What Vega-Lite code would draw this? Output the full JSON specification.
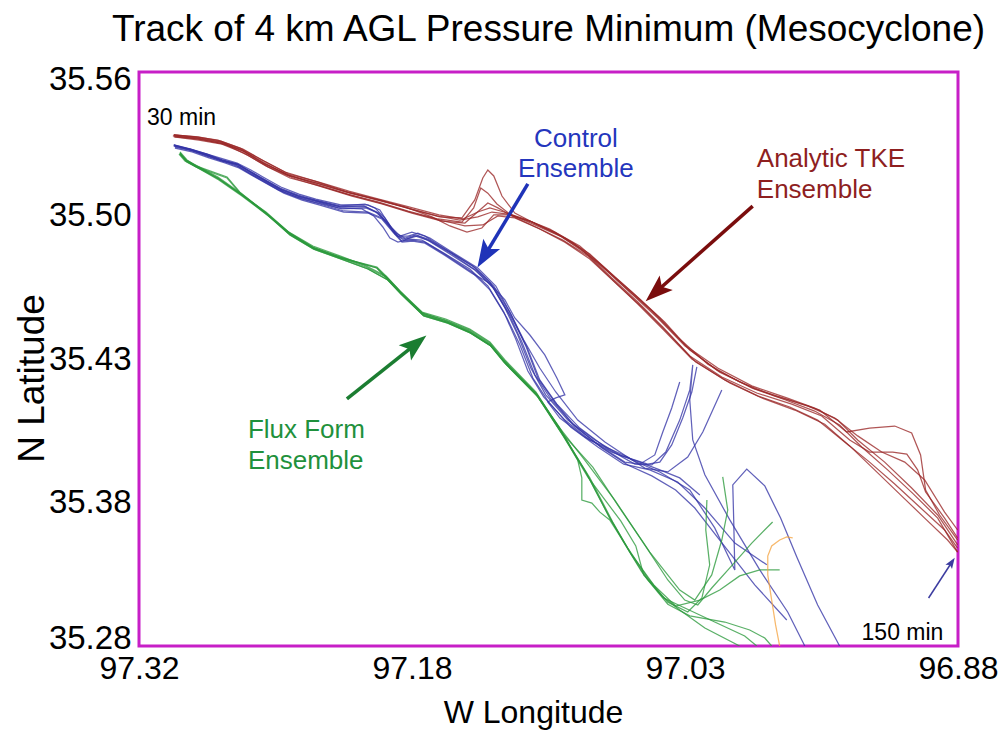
{
"$schema":"https://vega.github.io/schema/vega-lite/v6.json",
"width":819,"height":574,
"autosize":{"type":"none"},
"padding":{"left":139,"top":72,"right":41,"bottom":89},
"background":"white",
"config":{"font":"Liberation Sans","view":{"stroke":"#c71fc7","strokeWidth":3}},
"title":{"text":"Track of 4 km AGL Pressure Minimum (Mesocyclone)","fontSize":37,"fontWeight":"normal","color":"black","anchor":"middle","offset":14},
"datasets":{
"tracks":[
{"ens":"TKE","mem":"r1","t":0,"lon":97.3013,"lat":35.5293},{"ens":"TKE","mem":"r1","t":1,"lon":97.2872,"lat":35.5278},{"ens":"TKE","mem":"r1","t":2,"lon":97.2754,"lat":35.5258},{"ens":"TKE","mem":"r1","t":3,"lon":97.2631,"lat":35.5210},{"ens":"TKE","mem":"r1","t":4,"lon":97.2523,"lat":35.5151},{"ens":"TKE","mem":"r1","t":5,"lon":97.2389,"lat":35.5093},{"ens":"TKE","mem":"r1","t":6,"lon":97.2228,"lat":35.5053},{"ens":"TKE","mem":"r1","t":7,"lon":97.2067,"lat":35.5009},{"ens":"TKE","mem":"r1","t":8,"lon":97.1906,"lat":35.4976},{"ens":"TKE","mem":"r1","t":9,"lon":97.1745,"lat":35.4932},{"ens":"TKE","mem":"r1","t":10,"lon":97.1584,"lat":35.4893},{"ens":"TKE","mem":"r1","t":11,"lon":97.1465,"lat":35.4888},{"ens":"TKE","mem":"r1","t":12,"lon":97.1396,"lat":35.4976},{"ens":"TKE","mem":"r1","t":13,"lon":97.1353,"lat":35.5083},{"ens":"TKE","mem":"r1","t":14,"lon":97.1326,"lat":35.5122},{"ens":"TKE","mem":"r1","t":15,"lon":97.1294,"lat":35.5093},{"ens":"TKE","mem":"r1","t":16,"lon":97.1250,"lat":35.4995},{"ens":"TKE","mem":"r1","t":17,"lon":97.1181,"lat":35.4912},{"ens":"TKE","mem":"r1","t":18,"lon":97.1047,"lat":35.4849},{"ens":"TKE","mem":"r1","t":19,"lon":97.0912,"lat":35.4790},{"ens":"TKE","mem":"r1","t":20,"lon":97.0778,"lat":35.4712},{"ens":"TKE","mem":"r1","t":21,"lon":97.0644,"lat":35.4600},{"ens":"TKE","mem":"r1","t":22,"lon":97.0510,"lat":35.4493},{"ens":"TKE","mem":"r1","t":23,"lon":97.0375,"lat":35.4380},{"ens":"TKE","mem":"r1","t":24,"lon":97.0241,"lat":35.4244},{"ens":"TKE","mem":"r1","t":25,"lon":97.0080,"lat":35.4136},{"ens":"TKE","mem":"r1","t":26,"lon":96.9892,"lat":35.4054},{"ens":"TKE","mem":"r1","t":27,"lon":96.9704,"lat":35.4000},{"ens":"TKE","mem":"r1","t":28,"lon":96.9543,"lat":35.3951},{"ens":"TKE","mem":"r1","t":29,"lon":96.9398,"lat":35.3844},{"ens":"TKE","mem":"r1","t":30,"lon":96.9275,"lat":35.3863},{"ens":"TKE","mem":"r1","t":31,"lon":96.9140,"lat":35.3873},{"ens":"TKE","mem":"r1","t":32,"lon":96.9049,"lat":35.3839},{"ens":"TKE","mem":"r1","t":33,"lon":96.9001,"lat":35.3732},{"ens":"TKE","mem":"r1","t":34,"lon":96.8974,"lat":35.3561},{"ens":"TKE","mem":"r1","t":35,"lon":96.8899,"lat":35.3439},{"ens":"TKE","mem":"r1","t":36,"lon":96.8802,"lat":35.3317},
{"ens":"TKE","mem":"r2","t":0,"lon":97.3013,"lat":35.5288},{"ens":"TKE","mem":"r2","t":1,"lon":97.2883,"lat":35.5273},{"ens":"TKE","mem":"r2","t":2,"lon":97.2765,"lat":35.5253},{"ens":"TKE","mem":"r2","t":3,"lon":97.2642,"lat":35.5215},{"ens":"TKE","mem":"r2","t":4,"lon":97.2534,"lat":35.5156},{"ens":"TKE","mem":"r2","t":5,"lon":97.2400,"lat":35.5098},{"ens":"TKE","mem":"r2","t":6,"lon":97.2239,"lat":35.5049},{"ens":"TKE","mem":"r2","t":7,"lon":97.2078,"lat":35.5004},{"ens":"TKE","mem":"r2","t":8,"lon":97.1917,"lat":35.4966},{"ens":"TKE","mem":"r2","t":9,"lon":97.1755,"lat":35.4922},{"ens":"TKE","mem":"r2","t":10,"lon":97.1594,"lat":35.4883},{"ens":"TKE","mem":"r2","t":11,"lon":97.1465,"lat":35.4868},{"ens":"TKE","mem":"r2","t":12,"lon":97.1402,"lat":35.4937},{"ens":"TKE","mem":"r2","t":13,"lon":97.1364,"lat":35.5034},{"ens":"TKE","mem":"r2","t":14,"lon":97.1326,"lat":35.5009},{"ens":"TKE","mem":"r2","t":15,"lon":97.1277,"lat":35.4956},{"ens":"TKE","mem":"r2","t":16,"lon":97.1208,"lat":35.4907},{"ens":"TKE","mem":"r2","t":17,"lon":97.1073,"lat":35.4854},{"ens":"TKE","mem":"r2","t":18,"lon":97.0928,"lat":35.4795},{"ens":"TKE","mem":"r2","t":19,"lon":97.0789,"lat":35.4708},{"ens":"TKE","mem":"r2","t":20,"lon":97.0660,"lat":35.4595},{"ens":"TKE","mem":"r2","t":21,"lon":97.0520,"lat":35.4478},{"ens":"TKE","mem":"r2","t":22,"lon":97.0386,"lat":35.4356},{"ens":"TKE","mem":"r2","t":23,"lon":97.0241,"lat":35.4215},{"ens":"TKE","mem":"r2","t":24,"lon":97.0069,"lat":35.4112},{"ens":"TKE","mem":"r2","t":25,"lon":96.9881,"lat":35.4034},{"ens":"TKE","mem":"r2","t":26,"lon":96.9693,"lat":35.3980},{"ens":"TKE","mem":"r2","t":27,"lon":96.9532,"lat":35.3922},{"ens":"TKE","mem":"r2","t":28,"lon":96.9382,"lat":35.3805},{"ens":"TKE","mem":"r2","t":29,"lon":96.9275,"lat":35.3746},{"ens":"TKE","mem":"r2","t":30,"lon":96.9151,"lat":35.3746},{"ens":"TKE","mem":"r2","t":31,"lon":96.9075,"lat":35.3736},{"ens":"TKE","mem":"r2","t":32,"lon":96.9017,"lat":35.3659},{"ens":"TKE","mem":"r2","t":33,"lon":96.8974,"lat":35.3551},{"ens":"TKE","mem":"r2","t":34,"lon":96.8872,"lat":35.3424},{"ens":"TKE","mem":"r2","t":35,"lon":96.8802,"lat":35.3327},
{"ens":"TKE","mem":"r3","t":0,"lon":97.3007,"lat":35.5283},{"ens":"TKE","mem":"r3","t":1,"lon":97.2872,"lat":35.5273},{"ens":"TKE","mem":"r3","t":2,"lon":97.2738,"lat":35.5248},{"ens":"TKE","mem":"r3","t":3,"lon":97.2620,"lat":35.5196},{"ens":"TKE","mem":"r3","t":4,"lon":97.2507,"lat":35.5137},{"ens":"TKE","mem":"r3","t":5,"lon":97.2373,"lat":35.5083},{"ens":"TKE","mem":"r3","t":6,"lon":97.2217,"lat":35.5039},{"ens":"TKE","mem":"r3","t":7,"lon":97.2056,"lat":35.4995},{"ens":"TKE","mem":"r3","t":8,"lon":97.1895,"lat":35.4956},{"ens":"TKE","mem":"r3","t":9,"lon":97.1734,"lat":35.4912},{"ens":"TKE","mem":"r3","t":10,"lon":97.1573,"lat":35.4873},{"ens":"TKE","mem":"r3","t":11,"lon":97.1449,"lat":35.4863},{"ens":"TKE","mem":"r3","t":12,"lon":97.1369,"lat":35.4927},{"ens":"TKE","mem":"r3","t":13,"lon":97.1326,"lat":35.4961},{"ens":"TKE","mem":"r3","t":14,"lon":97.1272,"lat":35.4937},{"ens":"TKE","mem":"r3","t":15,"lon":97.1197,"lat":35.4898},{"ens":"TKE","mem":"r3","t":16,"lon":97.1057,"lat":35.4839},{"ens":"TKE","mem":"r3","t":17,"lon":97.0923,"lat":35.4780},{"ens":"TKE","mem":"r3","t":18,"lon":97.0789,"lat":35.4703},{"ens":"TKE","mem":"r3","t":19,"lon":97.0655,"lat":35.4585},{"ens":"TKE","mem":"r3","t":20,"lon":97.0520,"lat":35.4468},{"ens":"TKE","mem":"r3","t":21,"lon":97.0381,"lat":35.4341},{"ens":"TKE","mem":"r3","t":22,"lon":97.0230,"lat":35.4200},{"ens":"TKE","mem":"r3","t":23,"lon":97.0053,"lat":35.4098},{"ens":"TKE","mem":"r3","t":24,"lon":96.9876,"lat":35.4020},{"ens":"TKE","mem":"r3","t":25,"lon":96.9704,"lat":35.3966},{"ens":"TKE","mem":"r3","t":26,"lon":96.9554,"lat":35.3902},{"ens":"TKE","mem":"r3","t":27,"lon":96.9409,"lat":35.3795},{"ens":"TKE","mem":"r3","t":28,"lon":96.9275,"lat":35.3697},{"ens":"TKE","mem":"r3","t":29,"lon":96.9140,"lat":35.3590},{"ens":"TKE","mem":"r3","t":30,"lon":96.9006,"lat":35.3478},{"ens":"TKE","mem":"r3","t":31,"lon":96.8872,"lat":35.3366},{"ens":"TKE","mem":"r3","t":32,"lon":96.8802,"lat":35.3278},
{"ens":"TKE","mem":"r4","t":0,"lon":97.3013,"lat":35.5293},{"ens":"TKE","mem":"r4","t":1,"lon":97.2894,"lat":35.5283},{"ens":"TKE","mem":"r4","t":2,"lon":97.2776,"lat":35.5268},{"ens":"TKE","mem":"r4","t":3,"lon":97.2658,"lat":35.5229},{"ens":"TKE","mem":"r4","t":4,"lon":97.2539,"lat":35.5171},{"ens":"TKE","mem":"r4","t":5,"lon":97.2416,"lat":35.5112},{"ens":"TKE","mem":"r4","t":6,"lon":97.2255,"lat":35.5068},{"ens":"TKE","mem":"r4","t":7,"lon":97.2094,"lat":35.5019},{"ens":"TKE","mem":"r4","t":8,"lon":97.1933,"lat":35.4980},{"ens":"TKE","mem":"r4","t":9,"lon":97.1771,"lat":35.4942},{"ens":"TKE","mem":"r4","t":10,"lon":97.1626,"lat":35.4893},{"ens":"TKE","mem":"r4","t":11,"lon":97.1530,"lat":35.4849},{"ens":"TKE","mem":"r4","t":12,"lon":97.1438,"lat":35.4819},{"ens":"TKE","mem":"r4","t":13,"lon":97.1358,"lat":35.4839},{"ens":"TKE","mem":"r4","t":14,"lon":97.1294,"lat":35.4903},{"ens":"TKE","mem":"r4","t":15,"lon":97.1208,"lat":35.4903},{"ens":"TKE","mem":"r4","t":16,"lon":97.1089,"lat":35.4868},{"ens":"TKE","mem":"r4","t":17,"lon":97.0961,"lat":35.4814},{"ens":"TKE","mem":"r4","t":18,"lon":97.0832,"lat":35.4741},{"ens":"TKE","mem":"r4","t":19,"lon":97.0692,"lat":35.4634},{"ens":"TKE","mem":"r4","t":20,"lon":97.0552,"lat":35.4517},{"ens":"TKE","mem":"r4","t":21,"lon":97.0413,"lat":35.4400},{"ens":"TKE","mem":"r4","t":22,"lon":97.0268,"lat":35.4264},{"ens":"TKE","mem":"r4","t":23,"lon":97.0096,"lat":35.4146},{"ens":"TKE","mem":"r4","t":24,"lon":96.9908,"lat":35.4059},{"ens":"TKE","mem":"r4","t":25,"lon":96.9726,"lat":35.4000},{"ens":"TKE","mem":"r4","t":26,"lon":96.9570,"lat":35.3946},{"ens":"TKE","mem":"r4","t":27,"lon":96.9436,"lat":35.3878},{"ens":"TKE","mem":"r4","t":28,"lon":96.9317,"lat":35.3771},{"ens":"TKE","mem":"r4","t":29,"lon":96.9178,"lat":35.3659},{"ens":"TKE","mem":"r4","t":30,"lon":96.9039,"lat":35.3541},{"ens":"TKE","mem":"r4","t":31,"lon":96.8909,"lat":35.3424},{"ens":"TKE","mem":"r4","t":32,"lon":96.8802,"lat":35.3258},
{"ens":"TKE","mem":"r5","t":0,"lon":97.3018,"lat":35.5288},{"ens":"TKE","mem":"r5","t":1,"lon":97.2888,"lat":35.5278},{"ens":"TKE","mem":"r5","t":2,"lon":97.2765,"lat":35.5258},{"ens":"TKE","mem":"r5","t":3,"lon":97.2647,"lat":35.5220},{"ens":"TKE","mem":"r5","t":4,"lon":97.2534,"lat":35.5161},{"ens":"TKE","mem":"r5","t":5,"lon":97.2405,"lat":35.5098},{"ens":"TKE","mem":"r5","t":6,"lon":97.2244,"lat":35.5058},{"ens":"TKE","mem":"r5","t":7,"lon":97.2083,"lat":35.5014},{"ens":"TKE","mem":"r5","t":8,"lon":97.1922,"lat":35.4976},{"ens":"TKE","mem":"r5","t":9,"lon":97.1760,"lat":35.4937},{"ens":"TKE","mem":"r5","t":10,"lon":97.1599,"lat":35.4898},{"ens":"TKE","mem":"r5","t":11,"lon":97.1476,"lat":35.4878},{"ens":"TKE","mem":"r5","t":12,"lon":97.1380,"lat":35.4893},{"ens":"TKE","mem":"r5","t":13,"lon":97.1304,"lat":35.4917},{"ens":"TKE","mem":"r5","t":14,"lon":97.1218,"lat":35.4907},{"ens":"TKE","mem":"r5","t":15,"lon":97.1100,"lat":35.4873},{"ens":"TKE","mem":"r5","t":16,"lon":97.0966,"lat":35.4819},{"ens":"TKE","mem":"r5","t":17,"lon":97.0832,"lat":35.4751},{"ens":"TKE","mem":"r5","t":18,"lon":97.0697,"lat":35.4644},{"ens":"TKE","mem":"r5","t":19,"lon":97.0552,"lat":35.4527},{"ens":"TKE","mem":"r5","t":20,"lon":97.0402,"lat":35.4400},{"ens":"TKE","mem":"r5","t":21,"lon":97.0263,"lat":35.4264},{"ens":"TKE","mem":"r5","t":22,"lon":97.0091,"lat":35.4156},{"ens":"TKE","mem":"r5","t":23,"lon":96.9908,"lat":35.4069},{"ens":"TKE","mem":"r5","t":24,"lon":96.9720,"lat":35.4010},{"ens":"TKE","mem":"r5","t":25,"lon":96.9570,"lat":35.3961},{"ens":"TKE","mem":"r5","t":26,"lon":96.9446,"lat":35.3902},{"ens":"TKE","mem":"r5","t":27,"lon":96.9339,"lat":35.3805},{"ens":"TKE","mem":"r5","t":28,"lon":96.9194,"lat":35.3697},{"ens":"TKE","mem":"r5","t":29,"lon":96.9049,"lat":35.3571},{"ens":"TKE","mem":"r5","t":30,"lon":96.8909,"lat":35.3439},{"ens":"TKE","mem":"r5","t":31,"lon":96.8802,"lat":35.3293},
{"ens":"TKE","mem":"r6","t":0,"lon":97.3013,"lat":35.5283},{"ens":"TKE","mem":"r6","t":1,"lon":97.2878,"lat":35.5268},{"ens":"TKE","mem":"r6","t":2,"lon":97.2754,"lat":35.5248},{"ens":"TKE","mem":"r6","t":3,"lon":97.2637,"lat":35.5205},{"ens":"TKE","mem":"r6","t":4,"lon":97.2518,"lat":35.5142},{"ens":"TKE","mem":"r6","t":5,"lon":97.2389,"lat":35.5083},{"ens":"TKE","mem":"r6","t":6,"lon":97.2228,"lat":35.5044},{"ens":"TKE","mem":"r6","t":7,"lon":97.2067,"lat":35.5000},{"ens":"TKE","mem":"r6","t":8,"lon":97.1906,"lat":35.4961},{"ens":"TKE","mem":"r6","t":9,"lon":97.1745,"lat":35.4917},{"ens":"TKE","mem":"r6","t":10,"lon":97.1584,"lat":35.4878},{"ens":"TKE","mem":"r6","t":11,"lon":97.1449,"lat":35.4849},{"ens":"TKE","mem":"r6","t":12,"lon":97.1353,"lat":35.4854},{"ens":"TKE","mem":"r6","t":13,"lon":97.1272,"lat":35.4898},{"ens":"TKE","mem":"r6","t":14,"lon":97.1181,"lat":35.4888},{"ens":"TKE","mem":"r6","t":15,"lon":97.1047,"lat":35.4834},{"ens":"TKE","mem":"r6","t":16,"lon":97.0912,"lat":35.4770},{"ens":"TKE","mem":"r6","t":17,"lon":97.0778,"lat":35.4688},{"ens":"TKE","mem":"r6","t":18,"lon":97.0639,"lat":35.4570},{"ens":"TKE","mem":"r6","t":19,"lon":97.0499,"lat":35.4454},{"ens":"TKE","mem":"r6","t":20,"lon":97.0359,"lat":35.4326},{"ens":"TKE","mem":"r6","t":21,"lon":97.0209,"lat":35.4185},{"ens":"TKE","mem":"r6","t":22,"lon":97.0026,"lat":35.4083},{"ens":"TKE","mem":"r6","t":23,"lon":96.9854,"lat":35.4010},{"ens":"TKE","mem":"r6","t":24,"lon":96.9677,"lat":35.3951},{"ens":"TKE","mem":"r6","t":25,"lon":96.9516,"lat":35.3882},{"ens":"TKE","mem":"r6","t":26,"lon":96.9382,"lat":35.3776},{"ens":"TKE","mem":"r6","t":27,"lon":96.9248,"lat":35.3659},{"ens":"TKE","mem":"r6","t":28,"lon":96.9113,"lat":35.3541},{"ens":"TKE","mem":"r6","t":29,"lon":96.8979,"lat":35.3424},{"ens":"TKE","mem":"r6","t":30,"lon":96.8856,"lat":35.3317},{"ens":"TKE","mem":"r6","t":31,"lon":96.8802,"lat":35.3258},
{"ens":"TKE","mem":"r7","t":0,"lon":97.3013,"lat":35.5293},{"ens":"TKE","mem":"r7","t":1,"lon":97.2883,"lat":35.5283},{"ens":"TKE","mem":"r7","t":2,"lon":97.2760,"lat":35.5263},{"ens":"TKE","mem":"r7","t":3,"lon":97.2642,"lat":35.5224},{"ens":"TKE","mem":"r7","t":4,"lon":97.2529,"lat":35.5166},{"ens":"TKE","mem":"r7","t":5,"lon":97.2395,"lat":35.5102},{"ens":"TKE","mem":"r7","t":6,"lon":97.2234,"lat":35.5063},{"ens":"TKE","mem":"r7","t":7,"lon":97.2073,"lat":35.5019},{"ens":"TKE","mem":"r7","t":8,"lon":97.1912,"lat":35.4980},{"ens":"TKE","mem":"r7","t":9,"lon":97.1750,"lat":35.4942},{"ens":"TKE","mem":"r7","t":10,"lon":97.1589,"lat":35.4903},{"ens":"TKE","mem":"r7","t":11,"lon":97.1460,"lat":35.4883},{"ens":"TKE","mem":"r7","t":12,"lon":97.1380,"lat":35.4917},{"ens":"TKE","mem":"r7","t":13,"lon":97.1315,"lat":35.4937},{"ens":"TKE","mem":"r7","t":14,"lon":97.1240,"lat":35.4917},{"ens":"TKE","mem":"r7","t":15,"lon":97.1127,"lat":35.4883},{"ens":"TKE","mem":"r7","t":16,"lon":97.0993,"lat":35.4834},{"ens":"TKE","mem":"r7","t":17,"lon":97.0865,"lat":35.4765},{"ens":"TKE","mem":"r7","t":18,"lon":97.0730,"lat":35.4668},{"ens":"TKE","mem":"r7","t":19,"lon":97.0590,"lat":35.4551},{"ens":"TKE","mem":"r7","t":20,"lon":97.0445,"lat":35.4434},{"ens":"TKE","mem":"r7","t":21,"lon":97.0301,"lat":35.4302},{"ens":"TKE","mem":"r7","t":22,"lon":97.0144,"lat":35.4175},{"ens":"TKE","mem":"r7","t":23,"lon":96.9973,"lat":35.4088},{"ens":"TKE","mem":"r7","t":24,"lon":96.9785,"lat":35.4020},{"ens":"TKE","mem":"r7","t":25,"lon":96.9607,"lat":35.3971},{"ens":"TKE","mem":"r7","t":26,"lon":96.9462,"lat":35.3912},{"ens":"TKE","mem":"r7","t":27,"lon":96.9339,"lat":35.3825},{"ens":"TKE","mem":"r7","t":28,"lon":96.9210,"lat":35.3746},{"ens":"TKE","mem":"r7","t":29,"lon":96.9086,"lat":35.3697},{"ens":"TKE","mem":"r7","t":30,"lon":96.8979,"lat":35.3610},{"ens":"TKE","mem":"r7","t":31,"lon":96.8872,"lat":35.3453},{"ens":"TKE","mem":"r7","t":32,"lon":96.8802,"lat":35.3366},
{"ens":"CTL","mem":"b1","t":0,"lon":97.3013,"lat":35.5244},{"ens":"CTL","mem":"b1","t":1,"lon":97.2926,"lat":35.5224},{"ens":"CTL","mem":"b1","t":2,"lon":97.2834,"lat":35.5200},{"ens":"CTL","mem":"b1","t":3,"lon":97.2754,"lat":35.5171},{"ens":"CTL","mem":"b1","t":4,"lon":97.2673,"lat":35.5151},{"ens":"CTL","mem":"b1","t":5,"lon":97.2604,"lat":35.5117},{"ens":"CTL","mem":"b1","t":6,"lon":97.2539,"lat":35.5083},{"ens":"CTL","mem":"b1","t":7,"lon":97.2443,"lat":35.5034},{"ens":"CTL","mem":"b1","t":8,"lon":97.2346,"lat":35.5000},{"ens":"CTL","mem":"b1","t":9,"lon":97.2255,"lat":35.4976},{"ens":"CTL","mem":"b1","t":10,"lon":97.2121,"lat":35.4947},{"ens":"CTL","mem":"b1","t":11,"lon":97.1986,"lat":35.4956},{"ens":"CTL","mem":"b1","t":12,"lon":97.1933,"lat":35.4937},{"ens":"CTL","mem":"b1","t":13,"lon":97.1879,"lat":35.4888},{"ens":"CTL","mem":"b1","t":14,"lon":97.1841,"lat":35.4839},{"ens":"CTL","mem":"b1","t":15,"lon":97.1798,"lat":35.4800},{"ens":"CTL","mem":"b1","t":16,"lon":97.1734,"lat":35.4819},{"ens":"CTL","mem":"b1","t":17,"lon":97.1664,"lat":35.4800},{"ens":"CTL","mem":"b1","t":18,"lon":97.1546,"lat":35.4732},{"ens":"CTL","mem":"b1","t":19,"lon":97.1407,"lat":35.4654},{"ens":"CTL","mem":"b1","t":20,"lon":97.1315,"lat":35.4575},{"ens":"CTL","mem":"b1","t":21,"lon":97.1234,"lat":35.4449},{"ens":"CTL","mem":"b1","t":22,"lon":97.1165,"lat":35.4317},{"ens":"CTL","mem":"b1","t":23,"lon":97.1095,"lat":35.4156},{"ens":"CTL","mem":"b1","t":24,"lon":97.1015,"lat":35.4025},{"ens":"CTL","mem":"b1","t":25,"lon":97.0896,"lat":35.3902},{"ens":"CTL","mem":"b1","t":26,"lon":97.0751,"lat":35.3805},{"ens":"CTL","mem":"b1","t":27,"lon":97.0606,"lat":35.3727},{"ens":"CTL","mem":"b1","t":28,"lon":97.0467,"lat":35.3687},{"ens":"CTL","mem":"b1","t":29,"lon":97.0402,"lat":35.3697},{"ens":"CTL","mem":"b1","t":30,"lon":97.0338,"lat":35.3781},{"ens":"CTL","mem":"b1","t":31,"lon":97.0279,"lat":35.3912},{"ens":"CTL","mem":"b1","t":32,"lon":97.0230,"lat":35.4039},{"ens":"CTL","mem":"b1","t":33,"lon":97.0203,"lat":35.4161},
{"ens":"CTL","mem":"b2","t":0,"lon":97.3007,"lat":35.5239},{"ens":"CTL","mem":"b2","t":1,"lon":97.2921,"lat":35.5220},{"ens":"CTL","mem":"b2","t":2,"lon":97.2829,"lat":35.5191},{"ens":"CTL","mem":"b2","t":3,"lon":97.2744,"lat":35.5166},{"ens":"CTL","mem":"b2","t":4,"lon":97.2668,"lat":35.5147},{"ens":"CTL","mem":"b2","t":5,"lon":97.2593,"lat":35.5107},{"ens":"CTL","mem":"b2","t":6,"lon":97.2529,"lat":35.5073},{"ens":"CTL","mem":"b2","t":7,"lon":97.2432,"lat":35.5024},{"ens":"CTL","mem":"b2","t":8,"lon":97.2335,"lat":35.4990},{"ens":"CTL","mem":"b2","t":9,"lon":97.2239,"lat":35.4966},{"ens":"CTL","mem":"b2","t":10,"lon":97.2110,"lat":35.4932},{"ens":"CTL","mem":"b2","t":11,"lon":97.1981,"lat":35.4937},{"ens":"CTL","mem":"b2","t":12,"lon":97.1917,"lat":35.4912},{"ens":"CTL","mem":"b2","t":13,"lon":97.1863,"lat":35.4858},{"ens":"CTL","mem":"b2","t":14,"lon":97.1825,"lat":35.4809},{"ens":"CTL","mem":"b2","t":15,"lon":97.1777,"lat":35.4780},{"ens":"CTL","mem":"b2","t":16,"lon":97.1718,"lat":35.4800},{"ens":"CTL","mem":"b2","t":17,"lon":97.1648,"lat":35.4780},{"ens":"CTL","mem":"b2","t":18,"lon":97.1530,"lat":35.4712},{"ens":"CTL","mem":"b2","t":19,"lon":97.1396,"lat":35.4634},{"ens":"CTL","mem":"b2","t":20,"lon":97.1299,"lat":35.4551},{"ens":"CTL","mem":"b2","t":21,"lon":97.1213,"lat":35.4419},{"ens":"CTL","mem":"b2","t":22,"lon":97.1143,"lat":35.4283},{"ens":"CTL","mem":"b2","t":23,"lon":97.1073,"lat":35.4122},{"ens":"CTL","mem":"b2","t":24,"lon":97.0988,"lat":35.4005},{"ens":"CTL","mem":"b2","t":25,"lon":97.0870,"lat":35.3882},{"ens":"CTL","mem":"b2","t":26,"lon":97.0724,"lat":35.3776},{"ens":"CTL","mem":"b2","t":27,"lon":97.0590,"lat":35.3697},{"ens":"CTL","mem":"b2","t":28,"lon":97.0510,"lat":35.3687},{"ens":"CTL","mem":"b2","t":29,"lon":97.0429,"lat":35.3732},{"ens":"CTL","mem":"b2","t":30,"lon":97.0386,"lat":35.3844},{"ens":"CTL","mem":"b2","t":31,"lon":97.0338,"lat":35.3961},{"ens":"CTL","mem":"b2","t":32,"lon":97.0295,"lat":35.4088},
{"ens":"CTL","mem":"b3","t":0,"lon":97.3013,"lat":35.5239},{"ens":"CTL","mem":"b3","t":1,"lon":97.2926,"lat":35.5220},{"ens":"CTL","mem":"b3","t":2,"lon":97.2840,"lat":35.5196},{"ens":"CTL","mem":"b3","t":3,"lon":97.2760,"lat":35.5166},{"ens":"CTL","mem":"b3","t":4,"lon":97.2679,"lat":35.5147},{"ens":"CTL","mem":"b3","t":5,"lon":97.2610,"lat":35.5107},{"ens":"CTL","mem":"b3","t":6,"lon":97.2545,"lat":35.5073},{"ens":"CTL","mem":"b3","t":7,"lon":97.2449,"lat":35.5024},{"ens":"CTL","mem":"b3","t":8,"lon":97.2351,"lat":35.4990},{"ens":"CTL","mem":"b3","t":9,"lon":97.2261,"lat":35.4966},{"ens":"CTL","mem":"b3","t":10,"lon":97.2131,"lat":35.4937},{"ens":"CTL","mem":"b3","t":11,"lon":97.2002,"lat":35.4932},{"ens":"CTL","mem":"b3","t":12,"lon":97.1939,"lat":35.4898},{"ens":"CTL","mem":"b3","t":13,"lon":97.1890,"lat":35.4844},{"ens":"CTL","mem":"b3","t":14,"lon":97.1852,"lat":35.4790},{"ens":"CTL","mem":"b3","t":15,"lon":97.1809,"lat":35.4770},{"ens":"CTL","mem":"b3","t":16,"lon":97.1745,"lat":35.4785},{"ens":"CTL","mem":"b3","t":17,"lon":97.1680,"lat":35.4780},{"ens":"CTL","mem":"b3","t":18,"lon":97.1563,"lat":35.4717},{"ens":"CTL","mem":"b3","t":19,"lon":97.1423,"lat":35.4639},{"ens":"CTL","mem":"b3","t":20,"lon":97.1326,"lat":35.4556},{"ens":"CTL","mem":"b3","t":21,"lon":97.1240,"lat":35.4429},{"ens":"CTL","mem":"b3","t":22,"lon":97.1176,"lat":35.4297},{"ens":"CTL","mem":"b3","t":23,"lon":97.1111,"lat":35.4141},{"ens":"CTL","mem":"b3","t":24,"lon":97.1026,"lat":35.4015},{"ens":"CTL","mem":"b3","t":25,"lon":97.0912,"lat":35.3902},{"ens":"CTL","mem":"b3","t":26,"lon":97.0778,"lat":35.3805},{"ens":"CTL","mem":"b3","t":27,"lon":97.0574,"lat":35.3722},{"ens":"CTL","mem":"b3","t":28,"lon":97.0483,"lat":35.3668},{"ens":"CTL","mem":"b3","t":29,"lon":97.0359,"lat":35.3649},{"ens":"CTL","mem":"b3","t":30,"lon":97.0252,"lat":35.3722},{"ens":"CTL","mem":"b3","t":31,"lon":97.0171,"lat":35.3844},{"ens":"CTL","mem":"b3","t":32,"lon":97.0069,"lat":35.4049},
{"ens":"CTL","mem":"b4","t":0,"lon":97.3013,"lat":35.5244},{"ens":"CTL","mem":"b4","t":1,"lon":97.2921,"lat":35.5224},{"ens":"CTL","mem":"b4","t":2,"lon":97.2834,"lat":35.5200},{"ens":"CTL","mem":"b4","t":3,"lon":97.2749,"lat":35.5176},{"ens":"CTL","mem":"b4","t":4,"lon":97.2673,"lat":35.5156},{"ens":"CTL","mem":"b4","t":5,"lon":97.2599,"lat":35.5122},{"ens":"CTL","mem":"b4","t":6,"lon":97.2534,"lat":35.5088},{"ens":"CTL","mem":"b4","t":7,"lon":97.2438,"lat":35.5039},{"ens":"CTL","mem":"b4","t":8,"lon":97.2341,"lat":35.5004},{"ens":"CTL","mem":"b4","t":9,"lon":97.2250,"lat":35.4980},{"ens":"CTL","mem":"b4","t":10,"lon":97.2116,"lat":35.4952},{"ens":"CTL","mem":"b4","t":11,"lon":97.1970,"lat":35.4952},{"ens":"CTL","mem":"b4","t":12,"lon":97.1906,"lat":35.4927},{"ens":"CTL","mem":"b4","t":13,"lon":97.1852,"lat":35.4849},{"ens":"CTL","mem":"b4","t":14,"lon":97.1809,"lat":35.4800},{"ens":"CTL","mem":"b4","t":15,"lon":97.1755,"lat":35.4800},{"ens":"CTL","mem":"b4","t":16,"lon":97.1702,"lat":35.4814},{"ens":"CTL","mem":"b4","t":17,"lon":97.1637,"lat":35.4790},{"ens":"CTL","mem":"b4","t":18,"lon":97.1519,"lat":35.4722},{"ens":"CTL","mem":"b4","t":19,"lon":97.1380,"lat":35.4644},{"ens":"CTL","mem":"b4","t":20,"lon":97.1283,"lat":35.4556},{"ens":"CTL","mem":"b4","t":21,"lon":97.1197,"lat":35.4410},{"ens":"CTL","mem":"b4","t":22,"lon":97.1122,"lat":35.4264},{"ens":"CTL","mem":"b4","t":23,"lon":97.1057,"lat":35.4107},{"ens":"CTL","mem":"b4","t":24,"lon":97.0966,"lat":35.3990},{"ens":"CTL","mem":"b4","t":25,"lon":97.0859,"lat":35.3873},{"ens":"CTL","mem":"b4","t":26,"lon":97.0713,"lat":35.3766},{"ens":"CTL","mem":"b4","t":27,"lon":97.0574,"lat":35.3683},{"ens":"CTL","mem":"b4","t":28,"lon":97.0445,"lat":35.3630},{"ens":"CTL","mem":"b4","t":29,"lon":97.0317,"lat":35.3561},{"ens":"CTL","mem":"b4","t":30,"lon":97.0214,"lat":35.3473},{"ens":"CTL","mem":"b4","t":31,"lon":97.0080,"lat":35.3317},{"ens":"CTL","mem":"b4","t":32,"lon":96.9892,"lat":35.3098},{"ens":"CTL","mem":"b4","t":33,"lon":96.9720,"lat":35.2927},
{"ens":"CTL","mem":"b5","t":0,"lon":97.3007,"lat":35.5234},{"ens":"CTL","mem":"b5","t":1,"lon":97.2915,"lat":35.5215},{"ens":"CTL","mem":"b5","t":2,"lon":97.2824,"lat":35.5186},{"ens":"CTL","mem":"b5","t":3,"lon":97.2738,"lat":35.5161},{"ens":"CTL","mem":"b5","t":4,"lon":97.2663,"lat":35.5137},{"ens":"CTL","mem":"b5","t":5,"lon":97.2588,"lat":35.5098},{"ens":"CTL","mem":"b5","t":6,"lon":97.2518,"lat":35.5063},{"ens":"CTL","mem":"b5","t":7,"lon":97.2422,"lat":35.5014},{"ens":"CTL","mem":"b5","t":8,"lon":97.2324,"lat":35.4980},{"ens":"CTL","mem":"b5","t":9,"lon":97.2228,"lat":35.4956},{"ens":"CTL","mem":"b5","t":10,"lon":97.2100,"lat":35.4922},{"ens":"CTL","mem":"b5","t":11,"lon":97.1970,"lat":35.4917},{"ens":"CTL","mem":"b5","t":12,"lon":97.1895,"lat":35.4888},{"ens":"CTL","mem":"b5","t":13,"lon":97.1836,"lat":35.4824},{"ens":"CTL","mem":"b5","t":14,"lon":97.1787,"lat":35.4775},{"ens":"CTL","mem":"b5","t":15,"lon":97.1729,"lat":35.4780},{"ens":"CTL","mem":"b5","t":16,"lon":97.1664,"lat":35.4770},{"ens":"CTL","mem":"b5","t":17,"lon":97.1552,"lat":35.4708},{"ens":"CTL","mem":"b5","t":18,"lon":97.1412,"lat":35.4624},{"ens":"CTL","mem":"b5","t":19,"lon":97.1315,"lat":35.4537},{"ens":"CTL","mem":"b5","t":20,"lon":97.1223,"lat":35.4400},{"ens":"CTL","mem":"b5","t":21,"lon":97.1154,"lat":35.4269},{"ens":"CTL","mem":"b5","t":22,"lon":97.1084,"lat":35.4107},{"ens":"CTL","mem":"b5","t":23,"lon":97.0999,"lat":35.3990},{"ens":"CTL","mem":"b5","t":24,"lon":97.0881,"lat":35.3868},{"ens":"CTL","mem":"b5","t":25,"lon":97.0735,"lat":35.3771},{"ens":"CTL","mem":"b5","t":26,"lon":97.0596,"lat":35.3687},{"ens":"CTL","mem":"b5","t":27,"lon":97.0456,"lat":35.3659},{"ens":"CTL","mem":"b5","t":28,"lon":97.0306,"lat":35.3600},{"ens":"CTL","mem":"b5","t":29,"lon":97.0160,"lat":35.3473},{"ens":"CTL","mem":"b5","t":30,"lon":96.9999,"lat":35.3302},{"ens":"CTL","mem":"b5","t":31,"lon":96.9827,"lat":35.3196},
{"ens":"CTL","mem":"b6","t":0,"lon":97.3013,"lat":35.5239},{"ens":"CTL","mem":"b6","t":1,"lon":97.2926,"lat":35.5224},{"ens":"CTL","mem":"b6","t":2,"lon":97.2834,"lat":35.5196},{"ens":"CTL","mem":"b6","t":3,"lon":97.2754,"lat":35.5171},{"ens":"CTL","mem":"b6","t":4,"lon":97.2673,"lat":35.5151},{"ens":"CTL","mem":"b6","t":5,"lon":97.2604,"lat":35.5112},{"ens":"CTL","mem":"b6","t":6,"lon":97.2539,"lat":35.5078},{"ens":"CTL","mem":"b6","t":7,"lon":97.2443,"lat":35.5029},{"ens":"CTL","mem":"b6","t":8,"lon":97.2346,"lat":35.4995},{"ens":"CTL","mem":"b6","t":9,"lon":97.2250,"lat":35.4971},{"ens":"CTL","mem":"b6","t":10,"lon":97.2121,"lat":35.4942},{"ens":"CTL","mem":"b6","t":11,"lon":97.1992,"lat":35.4947},{"ens":"CTL","mem":"b6","t":12,"lon":97.1928,"lat":35.4917},{"ens":"CTL","mem":"b6","t":13,"lon":97.1868,"lat":35.4868},{"ens":"CTL","mem":"b6","t":14,"lon":97.1820,"lat":35.4814},{"ens":"CTL","mem":"b6","t":15,"lon":97.1771,"lat":35.4790},{"ens":"CTL","mem":"b6","t":16,"lon":97.1713,"lat":35.4805},{"ens":"CTL","mem":"b6","t":17,"lon":97.1648,"lat":35.4785},{"ens":"CTL","mem":"b6","t":18,"lon":97.1530,"lat":35.4722},{"ens":"CTL","mem":"b6","t":19,"lon":97.1391,"lat":35.4644},{"ens":"CTL","mem":"b6","t":20,"lon":97.1294,"lat":35.4556},{"ens":"CTL","mem":"b6","t":21,"lon":97.1208,"lat":35.4429},{"ens":"CTL","mem":"b6","t":22,"lon":97.1133,"lat":35.4293},{"ens":"CTL","mem":"b6","t":23,"lon":97.1047,"lat":35.4156},{"ens":"CTL","mem":"b6","t":24,"lon":97.0961,"lat":35.4039},{"ens":"CTL","mem":"b6","t":25,"lon":97.0843,"lat":35.3902},{"ens":"CTL","mem":"b6","t":26,"lon":97.0697,"lat":35.3795},{"ens":"CTL","mem":"b6","t":27,"lon":97.0552,"lat":35.3707},{"ens":"CTL","mem":"b6","t":28,"lon":97.0402,"lat":35.3649},{"ens":"CTL","mem":"b6","t":29,"lon":97.0241,"lat":35.3561},{"ens":"CTL","mem":"b6","t":30,"lon":97.0107,"lat":35.3376},{"ens":"CTL","mem":"b6","t":31,"lon":96.9999,"lat":35.3171},{"ens":"CTL","mem":"b6","t":32,"lon":97.0005,"lat":35.3415},{"ens":"CTL","mem":"b6","t":33,"lon":97.0010,"lat":35.3586},{"ens":"CTL","mem":"b6","t":34,"lon":96.9935,"lat":35.3663},{"ens":"CTL","mem":"b6","t":35,"lon":96.9838,"lat":35.3581},{"ens":"CTL","mem":"b6","t":36,"lon":96.9753,"lat":35.3424},{"ens":"CTL","mem":"b6","t":37,"lon":96.9666,"lat":35.3234},{"ens":"CTL","mem":"b6","t":38,"lon":96.9554,"lat":35.3000},{"ens":"CTL","mem":"b6","t":39,"lon":96.9436,"lat":35.2800},
{"ens":"CTL","mem":"b7","t":0,"lon":97.3013,"lat":35.5244},{"ens":"CTL","mem":"b7","t":1,"lon":97.2921,"lat":35.5220},{"ens":"CTL","mem":"b7","t":2,"lon":97.2829,"lat":35.5196},{"ens":"CTL","mem":"b7","t":3,"lon":97.2749,"lat":35.5166},{"ens":"CTL","mem":"b7","t":4,"lon":97.2668,"lat":35.5151},{"ens":"CTL","mem":"b7","t":5,"lon":97.2599,"lat":35.5112},{"ens":"CTL","mem":"b7","t":6,"lon":97.2534,"lat":35.5078},{"ens":"CTL","mem":"b7","t":7,"lon":97.2438,"lat":35.5029},{"ens":"CTL","mem":"b7","t":8,"lon":97.2341,"lat":35.4995},{"ens":"CTL","mem":"b7","t":9,"lon":97.2244,"lat":35.4971},{"ens":"CTL","mem":"b7","t":10,"lon":97.2116,"lat":35.4942},{"ens":"CTL","mem":"b7","t":11,"lon":97.1981,"lat":35.4942},{"ens":"CTL","mem":"b7","t":12,"lon":97.1912,"lat":35.4912},{"ens":"CTL","mem":"b7","t":13,"lon":97.1858,"lat":35.4854},{"ens":"CTL","mem":"b7","t":14,"lon":97.1814,"lat":35.4800},{"ens":"CTL","mem":"b7","t":15,"lon":97.1766,"lat":35.4785},{"ens":"CTL","mem":"b7","t":16,"lon":97.1702,"lat":35.4800},{"ens":"CTL","mem":"b7","t":17,"lon":97.1637,"lat":35.4775},{"ens":"CTL","mem":"b7","t":18,"lon":97.1519,"lat":35.4712},{"ens":"CTL","mem":"b7","t":19,"lon":97.1385,"lat":35.4629},{"ens":"CTL","mem":"b7","t":20,"lon":97.1288,"lat":35.4537},{"ens":"CTL","mem":"b7","t":21,"lon":97.1197,"lat":35.4400},{"ens":"CTL","mem":"b7","t":22,"lon":97.1116,"lat":35.4259},{"ens":"CTL","mem":"b7","t":23,"lon":97.1047,"lat":35.4098},{"ens":"CTL","mem":"b7","t":24,"lon":97.0955,"lat":35.3980},{"ens":"CTL","mem":"b7","t":25,"lon":97.0832,"lat":35.3863},{"ens":"CTL","mem":"b7","t":26,"lon":97.0681,"lat":35.3761},{"ens":"CTL","mem":"b7","t":27,"lon":97.0536,"lat":35.3687},{"ens":"CTL","mem":"b7","t":28,"lon":97.0445,"lat":35.3683},{"ens":"CTL","mem":"b7","t":29,"lon":97.0370,"lat":35.3746},{"ens":"CTL","mem":"b7","t":30,"lon":97.0295,"lat":35.3902},{"ens":"CTL","mem":"b7","t":31,"lon":97.0241,"lat":35.4049},{"ens":"CTL","mem":"b7","t":32,"lon":97.0225,"lat":35.4171},{"ens":"CTL","mem":"b7","t":33,"lon":97.0241,"lat":35.4000},{"ens":"CTL","mem":"b7","t":34,"lon":97.0225,"lat":35.3805},{"ens":"CTL","mem":"b7","t":35,"lon":97.0160,"lat":35.3635},{"ens":"CTL","mem":"b7","t":36,"lon":97.0026,"lat":35.3415},{"ens":"CTL","mem":"b7","t":37,"lon":96.9865,"lat":35.3171},{"ens":"CTL","mem":"b7","t":38,"lon":96.9715,"lat":35.2966},{"ens":"CTL","mem":"b7","t":39,"lon":96.9623,"lat":35.2800},
{"ens":"CTL","mem":"b8","t":0,"lon":97.3007,"lat":35.5229},{"ens":"CTL","mem":"b8","t":1,"lon":97.2915,"lat":35.5210},{"ens":"CTL","mem":"b8","t":2,"lon":97.2824,"lat":35.5181},{"ens":"CTL","mem":"b8","t":3,"lon":97.2738,"lat":35.5156},{"ens":"CTL","mem":"b8","t":4,"lon":97.2663,"lat":35.5132},{"ens":"CTL","mem":"b8","t":5,"lon":97.2588,"lat":35.5093},{"ens":"CTL","mem":"b8","t":6,"lon":97.2518,"lat":35.5058},{"ens":"CTL","mem":"b8","t":7,"lon":97.2422,"lat":35.5009},{"ens":"CTL","mem":"b8","t":8,"lon":97.2324,"lat":35.4975},{"ens":"CTL","mem":"b8","t":9,"lon":97.2228,"lat":35.4951},{"ens":"CTL","mem":"b8","t":10,"lon":97.2100,"lat":35.4917},{"ens":"CTL","mem":"b8","t":11,"lon":97.1970,"lat":35.4912},{"ens":"CTL","mem":"b8","t":12,"lon":97.1895,"lat":35.4883},{"ens":"CTL","mem":"b8","t":13,"lon":97.1836,"lat":35.4819},{"ens":"CTL","mem":"b8","t":14,"lon":97.1787,"lat":35.4770},{"ens":"CTL","mem":"b8","t":15,"lon":97.1729,"lat":35.4775},{"ens":"CTL","mem":"b8","t":16,"lon":97.1664,"lat":35.4765},{"ens":"CTL","mem":"b8","t":17,"lon":97.1552,"lat":35.4703},{"ens":"CTL","mem":"b8","t":18,"lon":97.1412,"lat":35.4619},{"ens":"CTL","mem":"b8","t":19,"lon":97.1315,"lat":35.4570},{"ens":"CTL","mem":"b8","t":20,"lon":97.1234,"lat":35.4488},{"ens":"CTL","mem":"b8","t":21,"lon":97.1181,"lat":35.4400},{"ens":"CTL","mem":"b8","t":22,"lon":97.1100,"lat":35.4317},{"ens":"CTL","mem":"b8","t":23,"lon":97.1020,"lat":35.4220},{"ens":"CTL","mem":"b8","t":24,"lon":97.0955,"lat":35.4107},{"ens":"CTL","mem":"b8","t":25,"lon":97.0912,"lat":35.4025},{"ens":"CTL","mem":"b8","t":26,"lon":97.0961,"lat":35.4010},{"ens":"CTL","mem":"b8","t":27,"lon":97.1004,"lat":35.3990},{"ens":"CTL","mem":"b8","t":28,"lon":97.0939,"lat":35.3912},{"ens":"CTL","mem":"b8","t":29,"lon":97.0805,"lat":35.3820},{"ens":"CTL","mem":"b8","t":30,"lon":97.0660,"lat":35.3746},{"ens":"CTL","mem":"b8","t":31,"lon":97.0510,"lat":35.3697},{"ens":"CTL","mem":"b8","t":32,"lon":97.0402,"lat":35.3659},{"ens":"CTL","mem":"b8","t":33,"lon":97.0295,"lat":35.3620},{"ens":"CTL","mem":"b8","t":34,"lon":97.0187,"lat":35.3537},
{"ens":"FLX","mem":"g1","t":0,"lon":97.2980,"lat":35.5205},{"ens":"FLX","mem":"g1","t":1,"lon":97.2948,"lat":35.5166},{"ens":"FLX","mem":"g1","t":2,"lon":97.2888,"lat":35.5137},{"ens":"FLX","mem":"g1","t":3,"lon":97.2776,"lat":35.5083},{"ens":"FLX","mem":"g1","t":4,"lon":97.2653,"lat":35.5004},{"ens":"FLX","mem":"g1","t":5,"lon":97.2518,"lat":35.4917},{"ens":"FLX","mem":"g1","t":6,"lon":97.2395,"lat":35.4819},{"ens":"FLX","mem":"g1","t":7,"lon":97.2266,"lat":35.4751},{"ens":"FLX","mem":"g1","t":8,"lon":97.2121,"lat":35.4703},{"ens":"FLX","mem":"g1","t":9,"lon":97.1981,"lat":35.4654},{"ens":"FLX","mem":"g1","t":10,"lon":97.1874,"lat":35.4605},{"ens":"FLX","mem":"g1","t":11,"lon":97.1798,"lat":35.4532},{"ens":"FLX","mem":"g1","t":12,"lon":97.1680,"lat":35.4429},{"ens":"FLX","mem":"g1","t":13,"lon":97.1552,"lat":35.4395},{"ens":"FLX","mem":"g1","t":14,"lon":97.1423,"lat":35.4346},{"ens":"FLX","mem":"g1","t":15,"lon":97.1315,"lat":35.4283},{"ens":"FLX","mem":"g1","t":16,"lon":97.1234,"lat":35.4195},{"ens":"FLX","mem":"g1","t":17,"lon":97.1068,"lat":35.4039},{"ens":"FLX","mem":"g1","t":18,"lon":97.0928,"lat":35.3844},{"ens":"FLX","mem":"g1","t":19,"lon":97.0800,"lat":35.3649},{"ens":"FLX","mem":"g1","t":20,"lon":97.0676,"lat":35.3434},{"ens":"FLX","mem":"g1","t":21,"lon":97.0596,"lat":35.3307},{"ens":"FLX","mem":"g1","t":22,"lon":97.0499,"lat":35.3161},{"ens":"FLX","mem":"g1","t":23,"lon":97.0391,"lat":35.3044},{"ens":"FLX","mem":"g1","t":24,"lon":97.0295,"lat":35.2976},{"ens":"FLX","mem":"g1","t":25,"lon":97.0160,"lat":35.2888},{"ens":"FLX","mem":"g1","t":26,"lon":96.9973,"lat":35.2800},
{"ens":"FLX","mem":"g2","t":0,"lon":97.2975,"lat":35.5196},{"ens":"FLX","mem":"g2","t":1,"lon":97.2942,"lat":35.5161},{"ens":"FLX","mem":"g2","t":2,"lon":97.2883,"lat":35.5132},{"ens":"FLX","mem":"g2","t":3,"lon":97.2771,"lat":35.5073},{"ens":"FLX","mem":"g2","t":4,"lon":97.2647,"lat":35.4995},{"ens":"FLX","mem":"g2","t":5,"lon":97.2512,"lat":35.4903},{"ens":"FLX","mem":"g2","t":6,"lon":97.2389,"lat":35.4805},{"ens":"FLX","mem":"g2","t":7,"lon":97.2261,"lat":35.4736},{"ens":"FLX","mem":"g2","t":8,"lon":97.2116,"lat":35.4688},{"ens":"FLX","mem":"g2","t":9,"lon":97.1970,"lat":35.4639},{"ens":"FLX","mem":"g2","t":10,"lon":97.1863,"lat":35.4585},{"ens":"FLX","mem":"g2","t":11,"lon":97.1787,"lat":35.4513},{"ens":"FLX","mem":"g2","t":12,"lon":97.1670,"lat":35.4410},{"ens":"FLX","mem":"g2","t":13,"lon":97.1541,"lat":35.4375},{"ens":"FLX","mem":"g2","t":14,"lon":97.1418,"lat":35.4326},{"ens":"FLX","mem":"g2","t":15,"lon":97.1310,"lat":35.4264},{"ens":"FLX","mem":"g2","t":16,"lon":97.1229,"lat":35.4175},{"ens":"FLX","mem":"g2","t":17,"lon":97.1057,"lat":35.4015},{"ens":"FLX","mem":"g2","t":18,"lon":97.0918,"lat":35.3820},{"ens":"FLX","mem":"g2","t":19,"lon":97.0789,"lat":35.3625},{"ens":"FLX","mem":"g2","t":20,"lon":97.0612,"lat":35.3410},{"ens":"FLX","mem":"g2","t":21,"lon":97.0531,"lat":35.3288},{"ens":"FLX","mem":"g2","t":22,"lon":97.0489,"lat":35.3147},{"ens":"FLX","mem":"g2","t":23,"lon":97.0381,"lat":35.3034},{"ens":"FLX","mem":"g2","t":24,"lon":97.0279,"lat":35.2990},{"ens":"FLX","mem":"g2","t":25,"lon":97.0107,"lat":35.2917},{"ens":"FLX","mem":"g2","t":26,"lon":96.9946,"lat":35.2849},{"ens":"FLX","mem":"g2","t":27,"lon":96.9881,"lat":35.2800},
{"ens":"FLX","mem":"g3","t":0,"lon":97.2980,"lat":35.5200},{"ens":"FLX","mem":"g3","t":1,"lon":97.2948,"lat":35.5171},{"ens":"FLX","mem":"g3","t":2,"lon":97.2894,"lat":35.5142},{"ens":"FLX","mem":"g3","t":3,"lon":97.2727,"lat":35.5088},{"ens":"FLX","mem":"g3","t":4,"lon":97.2658,"lat":35.5014},{"ens":"FLX","mem":"g3","t":5,"lon":97.2518,"lat":35.4912},{"ens":"FLX","mem":"g3","t":6,"lon":97.2389,"lat":35.4814},{"ens":"FLX","mem":"g3","t":7,"lon":97.2266,"lat":35.4746},{"ens":"FLX","mem":"g3","t":8,"lon":97.2121,"lat":35.4698},{"ens":"FLX","mem":"g3","t":9,"lon":97.1922,"lat":35.4644},{"ens":"FLX","mem":"g3","t":10,"lon":97.1868,"lat":35.4595},{"ens":"FLX","mem":"g3","t":11,"lon":97.1793,"lat":35.4522},{"ens":"FLX","mem":"g3","t":12,"lon":97.1675,"lat":35.4424},{"ens":"FLX","mem":"g3","t":13,"lon":97.1546,"lat":35.4385},{"ens":"FLX","mem":"g3","t":14,"lon":97.1423,"lat":35.4336},{"ens":"FLX","mem":"g3","t":15,"lon":97.1315,"lat":35.4273},{"ens":"FLX","mem":"g3","t":16,"lon":97.1240,"lat":35.4190},{"ens":"FLX","mem":"g3","t":17,"lon":97.1062,"lat":35.4029},{"ens":"FLX","mem":"g3","t":18,"lon":97.0923,"lat":35.3834},{"ens":"FLX","mem":"g3","t":19,"lon":97.0762,"lat":35.3673},{"ens":"FLX","mem":"g3","t":20,"lon":97.0617,"lat":35.3473},{"ens":"FLX","mem":"g3","t":21,"lon":97.0456,"lat":35.3258},{"ens":"FLX","mem":"g3","t":22,"lon":97.0295,"lat":35.3073},{"ens":"FLX","mem":"g3","t":23,"lon":97.0214,"lat":35.3024},{"ens":"FLX","mem":"g3","t":24,"lon":97.0123,"lat":35.3147},{"ens":"FLX","mem":"g3","t":25,"lon":97.0069,"lat":35.3317},{"ens":"FLX","mem":"g3","t":26,"lon":97.0037,"lat":35.3463},{"ens":"FLX","mem":"g3","t":27,"lon":97.0064,"lat":35.3625},
{"ens":"FLX","mem":"g4","t":0,"lon":97.2980,"lat":35.5210},{"ens":"FLX","mem":"g4","t":1,"lon":97.2942,"lat":35.5171},{"ens":"FLX","mem":"g4","t":2,"lon":97.2883,"lat":35.5137},{"ens":"FLX","mem":"g4","t":3,"lon":97.2771,"lat":35.5078},{"ens":"FLX","mem":"g4","t":4,"lon":97.2647,"lat":35.5000},{"ens":"FLX","mem":"g4","t":5,"lon":97.2512,"lat":35.4907},{"ens":"FLX","mem":"g4","t":6,"lon":97.2384,"lat":35.4809},{"ens":"FLX","mem":"g4","t":7,"lon":97.2261,"lat":35.4741},{"ens":"FLX","mem":"g4","t":8,"lon":97.2116,"lat":35.4693},{"ens":"FLX","mem":"g4","t":9,"lon":97.1922,"lat":35.4649},{"ens":"FLX","mem":"g4","t":10,"lon":97.1868,"lat":35.4600},{"ens":"FLX","mem":"g4","t":11,"lon":97.1793,"lat":35.4527},{"ens":"FLX","mem":"g4","t":12,"lon":97.1675,"lat":35.4419},{"ens":"FLX","mem":"g4","t":13,"lon":97.1546,"lat":35.4380},{"ens":"FLX","mem":"g4","t":14,"lon":97.1423,"lat":35.4331},{"ens":"FLX","mem":"g4","t":15,"lon":97.1315,"lat":35.4269},{"ens":"FLX","mem":"g4","t":16,"lon":97.1240,"lat":35.4185},{"ens":"FLX","mem":"g4","t":17,"lon":97.1068,"lat":35.4029},{"ens":"FLX","mem":"g4","t":18,"lon":97.0939,"lat":35.3863},{"ens":"FLX","mem":"g4","t":19,"lon":97.0843,"lat":35.3707},{"ens":"FLX","mem":"g4","t":20,"lon":97.0821,"lat":35.3620},{"ens":"FLX","mem":"g4","t":21,"lon":97.0821,"lat":35.3512},{"ens":"FLX","mem":"g4","t":22,"lon":97.0767,"lat":35.3497},{"ens":"FLX","mem":"g4","t":23,"lon":97.0724,"lat":35.3453},{"ens":"FLX","mem":"g4","t":24,"lon":97.0671,"lat":35.3415},{"ens":"FLX","mem":"g4","t":25,"lon":97.0552,"lat":35.3244},{"ens":"FLX","mem":"g4","t":26,"lon":97.0435,"lat":35.3098},{"ens":"FLX","mem":"g4","t":27,"lon":97.0317,"lat":35.2995},{"ens":"FLX","mem":"g4","t":28,"lon":97.0187,"lat":35.3024},{"ens":"FLX","mem":"g4","t":29,"lon":97.0080,"lat":35.3073},{"ens":"FLX","mem":"g4","t":30,"lon":96.9973,"lat":35.3142},{"ens":"FLX","mem":"g4","t":31,"lon":96.9865,"lat":35.3171},{"ens":"FLX","mem":"g4","t":32,"lon":96.9758,"lat":35.3171},
{"ens":"FLX","mem":"g5","t":0,"lon":97.2985,"lat":35.5200},{"ens":"FLX","mem":"g5","t":1,"lon":97.2953,"lat":35.5166},{"ens":"FLX","mem":"g5","t":2,"lon":97.2894,"lat":35.5137},{"ens":"FLX","mem":"g5","t":3,"lon":97.2727,"lat":35.5083},{"ens":"FLX","mem":"g5","t":4,"lon":97.2658,"lat":35.5009},{"ens":"FLX","mem":"g5","t":5,"lon":97.2523,"lat":35.4912},{"ens":"FLX","mem":"g5","t":6,"lon":97.2395,"lat":35.4814},{"ens":"FLX","mem":"g5","t":7,"lon":97.2271,"lat":35.4746},{"ens":"FLX","mem":"g5","t":8,"lon":97.2126,"lat":35.4698},{"ens":"FLX","mem":"g5","t":9,"lon":97.1981,"lat":35.4649},{"ens":"FLX","mem":"g5","t":10,"lon":97.1874,"lat":35.4600},{"ens":"FLX","mem":"g5","t":11,"lon":97.1798,"lat":35.4527},{"ens":"FLX","mem":"g5","t":12,"lon":97.1680,"lat":35.4424},{"ens":"FLX","mem":"g5","t":13,"lon":97.1552,"lat":35.4390},{"ens":"FLX","mem":"g5","t":14,"lon":97.1423,"lat":35.4341},{"ens":"FLX","mem":"g5","t":15,"lon":97.1315,"lat":35.4278},{"ens":"FLX","mem":"g5","t":16,"lon":97.1240,"lat":35.4195},{"ens":"FLX","mem":"g5","t":17,"lon":97.1068,"lat":35.4034},{"ens":"FLX","mem":"g5","t":18,"lon":97.0939,"lat":35.3863},{"ens":"FLX","mem":"g5","t":19,"lon":97.0805,"lat":35.3707},{"ens":"FLX","mem":"g5","t":20,"lon":97.0644,"lat":35.3512},{"ens":"FLX","mem":"g5","t":21,"lon":97.0483,"lat":35.3293},{"ens":"FLX","mem":"g5","t":22,"lon":97.0359,"lat":35.3122},{"ens":"FLX","mem":"g5","t":23,"lon":97.0268,"lat":35.3024},{"ens":"FLX","mem":"g5","t":24,"lon":97.0198,"lat":35.3000},{"ens":"FLX","mem":"g5","t":25,"lon":97.0123,"lat":35.3083},{"ens":"FLX","mem":"g5","t":26,"lon":97.0026,"lat":35.3181},{"ens":"FLX","mem":"g5","t":27,"lon":96.9908,"lat":35.3302},{"ens":"FLX","mem":"g5","t":28,"lon":96.9796,"lat":35.3405},
{"ens":"FLX","mem":"g6","t":0,"lon":97.2980,"lat":35.5205},{"ens":"FLX","mem":"g6","t":1,"lon":97.2948,"lat":35.5171},{"ens":"FLX","mem":"g6","t":2,"lon":97.2888,"lat":35.5142},{"ens":"FLX","mem":"g6","t":3,"lon":97.2776,"lat":35.5088},{"ens":"FLX","mem":"g6","t":4,"lon":97.2653,"lat":35.5009},{"ens":"FLX","mem":"g6","t":5,"lon":97.2518,"lat":35.4912},{"ens":"FLX","mem":"g6","t":6,"lon":97.2389,"lat":35.4809},{"ens":"FLX","mem":"g6","t":7,"lon":97.2266,"lat":35.4741},{"ens":"FLX","mem":"g6","t":8,"lon":97.2121,"lat":35.4693},{"ens":"FLX","mem":"g6","t":9,"lon":97.1922,"lat":35.4644},{"ens":"FLX","mem":"g6","t":10,"lon":97.1868,"lat":35.4590},{"ens":"FLX","mem":"g6","t":11,"lon":97.1793,"lat":35.4517},{"ens":"FLX","mem":"g6","t":12,"lon":97.1675,"lat":35.4415},{"ens":"FLX","mem":"g6","t":13,"lon":97.1546,"lat":35.4380},{"ens":"FLX","mem":"g6","t":14,"lon":97.1423,"lat":35.4331},{"ens":"FLX","mem":"g6","t":15,"lon":97.1315,"lat":35.4269},{"ens":"FLX","mem":"g6","t":16,"lon":97.1234,"lat":35.4185},{"ens":"FLX","mem":"g6","t":17,"lon":97.1062,"lat":35.4025},{"ens":"FLX","mem":"g6","t":18,"lon":97.0923,"lat":35.3830},{"ens":"FLX","mem":"g6","t":19,"lon":97.0794,"lat":35.3639},{"ens":"FLX","mem":"g6","t":20,"lon":97.0671,"lat":35.3424},{"ens":"FLX","mem":"g6","t":21,"lon":97.0574,"lat":35.3278},{"ens":"FLX","mem":"g6","t":22,"lon":97.0467,"lat":35.3132},{"ens":"FLX","mem":"g6","t":23,"lon":97.0359,"lat":35.3014},{"ens":"FLX","mem":"g6","t":24,"lon":97.0252,"lat":35.2966},{"ens":"FLX","mem":"g6","t":25,"lon":97.0176,"lat":35.3034},{"ens":"FLX","mem":"g6","t":26,"lon":97.0134,"lat":35.3196},{"ens":"FLX","mem":"g6","t":27,"lon":97.0155,"lat":35.3366},{"ens":"FLX","mem":"g6","t":28,"lon":97.0149,"lat":35.3512},
{"ens":"FLX","mem":"g7","t":0,"lon":97.2980,"lat":35.5200},{"ens":"FLX","mem":"g7","t":1,"lon":97.2942,"lat":35.5166},{"ens":"FLX","mem":"g7","t":2,"lon":97.2883,"lat":35.5132},{"ens":"FLX","mem":"g7","t":3,"lon":97.2771,"lat":35.5078},{"ens":"FLX","mem":"g7","t":4,"lon":97.2647,"lat":35.5000},{"ens":"FLX","mem":"g7","t":5,"lon":97.2512,"lat":35.4907},{"ens":"FLX","mem":"g7","t":6,"lon":97.2389,"lat":35.4805},{"ens":"FLX","mem":"g7","t":7,"lon":97.2261,"lat":35.4736},{"ens":"FLX","mem":"g7","t":8,"lon":97.2116,"lat":35.4688},{"ens":"FLX","mem":"g7","t":9,"lon":97.1970,"lat":35.4639},{"ens":"FLX","mem":"g7","t":10,"lon":97.1863,"lat":35.4585},{"ens":"FLX","mem":"g7","t":11,"lon":97.1787,"lat":35.4513},{"ens":"FLX","mem":"g7","t":12,"lon":97.1670,"lat":35.4410},{"ens":"FLX","mem":"g7","t":13,"lon":97.1541,"lat":35.4375},{"ens":"FLX","mem":"g7","t":14,"lon":97.1418,"lat":35.4326},{"ens":"FLX","mem":"g7","t":15,"lon":97.1310,"lat":35.4264},{"ens":"FLX","mem":"g7","t":16,"lon":97.1229,"lat":35.4175},{"ens":"FLX","mem":"g7","t":17,"lon":97.1057,"lat":35.4015},{"ens":"FLX","mem":"g7","t":18,"lon":97.0912,"lat":35.3815},{"ens":"FLX","mem":"g7","t":19,"lon":97.0778,"lat":35.3620},{"ens":"FLX","mem":"g7","t":20,"lon":97.0655,"lat":35.3405},{"ens":"FLX","mem":"g7","t":21,"lon":97.0563,"lat":35.3258},{"ens":"FLX","mem":"g7","t":22,"lon":97.0467,"lat":35.3122},{"ens":"FLX","mem":"g7","t":23,"lon":97.0359,"lat":35.3004},{"ens":"FLX","mem":"g7","t":24,"lon":97.0241,"lat":35.2947},{"ens":"FLX","mem":"g7","t":25,"lon":97.0053,"lat":35.2917},{"ens":"FLX","mem":"g7","t":26,"lon":96.9919,"lat":35.2878},{"ens":"FLX","mem":"g7","t":27,"lon":96.9838,"lat":35.2839},{"ens":"FLX","mem":"g7","t":28,"lon":96.9801,"lat":35.2800},
{"ens":"ORG","mem":"o1","t":0,"lon":96.9688,"lat":35.3327},{"ens":"ORG","mem":"o1","t":1,"lon":96.9720,"lat":35.3332},{"ens":"ORG","mem":"o1","t":2,"lon":96.9758,"lat":35.3317},{"ens":"ORG","mem":"o1","t":3,"lon":96.9801,"lat":35.3288},{"ens":"ORG","mem":"o1","t":4,"lon":96.9822,"lat":35.3239},{"ens":"ORG","mem":"o1","t":5,"lon":96.9822,"lat":35.3147},{"ens":"ORG","mem":"o1","t":6,"lon":96.9801,"lat":35.3024},{"ens":"ORG","mem":"o1","t":7,"lon":96.9780,"lat":35.2903},{"ens":"ORG","mem":"o1","t":8,"lon":96.9758,"lat":35.2800}
],
"arrows":[
{"target":"CTL","lon":97.1111,"lat":35.5054,"lon2":97.1338,"lat2":35.4712,"heading":211},
{"target":"TKE","lon":96.9903,"lat":35.4946,"lon2":97.0415,"lat2":35.4533,"heading":228},
{"target":"FLX","lon":97.2083,"lat":35.4005,"lon2":97.1722,"lat2":35.4266,"heading":51},
{"target":"END","lon":96.8958,"lat":35.3034,"lon2":96.8836,"lat2":35.3205,"heading":33}
],
"labels":[
{"label":"30 min","kind":"time","lon":97.3157,"lat":35.5341},
{"label":"150 min","kind":"time","lon":96.9318,"lat":35.2829},
{"label":"Control\nEnsemble","kind":"CTL","lon":97.0853,"lat":35.5234},
{"label":"Analytic TKE\nEnsemble","kind":"TKE","lon":96.9881,"lat":35.5137},
{"label":"Flux Form\nEnsemble","kind":"FLX","lon":97.2615,"lat":35.3815}
]
},
"encoding":{
"x":{"field":"lon","type":"quantitative","scale":{"domain":[96.88,97.32],"reverse":true,"zero":false,"nice":false},
 "axis":{"title":"W Longitude","values":[97.32,97.17333,97.02667,96.88],"labelExpr":"datum.value > 97.3 ? '97.32' : datum.value > 97.1 ? '97.18' : datum.value > 96.95 ? '97.03' : '96.88'","grid":false,"ticks":false,"domain":false,"labelFontSize":32,"labelColor":"black","labelPadding":7,"labelFlush":false,"titleFontSize":32,"titleFontWeight":"normal","titleColor":"black","titleX":394,"titleY":66,"titleBaseline":"middle","titleAlign":"center"}},
"y":{"field":"lat","type":"quantitative","scale":{"domain":[35.28,35.56],"zero":false,"nice":false},
 "axis":{"title":"N Latitude","values":[35.28,35.35,35.42,35.49,35.56],"labelExpr":"datum.value > 35.55 ? '35.56' : datum.value > 35.48 ? '35.50' : datum.value > 35.41 ? '35.43' : datum.value > 35.34 ? '35.38' : '35.28'","grid":false,"ticks":false,"domain":false,"labelFontSize":33,"labelColor":"black","labelPadding":8,"labelFlush":true,"labelFlushOffset":9,"titleFontSize":37,"titleFontWeight":"normal","titleColor":"black","titleX":-107,"titleY":306,"titleAngle":-90,"titleBaseline":"middle","titleAlign":"center"}}
},
"layer":[
{"data":{"name":"tracks"},"mark":{"type":"line","strokeWidth":1.25,"opacity":0.78,"clip":true},
 "encoding":{"detail":{"field":"mem"},"order":{"field":"t","type":"quantitative"},
  "color":{"field":"ens","type":"nominal","scale":{"domain":["TKE","CTL","FLX","ORG"],"range":["#9a2626","#3434a6","#2c9a3c","#f5a443"]},"legend":null}}},
{"data":{"name":"arrows"},"transform":[{"filter":"datum.target != 'END'"}],"mark":{"type":"rule","strokeWidth":3.5},
 "encoding":{"x2":{"field":"lon2"},"y2":{"field":"lat2"},
  "color":{"field":"target","type":"nominal","scale":{"domain":["TKE","CTL","FLX"],"range":["#7a0d0d","#1f33b8","#1b7d31"]},"legend":null}}},
{"data":{"name":"arrows"},"transform":[{"filter":"datum.target != 'END'"}],"mark":{"type":"point","filled":true,"opacity":1,"size":1000,"shape":"M0,-1L0.62,0.75L0,0.38L-0.62,0.75Z"},
 "encoding":{"x":{"field":"lon2","type":"quantitative"},"y":{"field":"lat2","type":"quantitative"},"angle":{"field":"heading","type":"quantitative","scale":null},
  "color":{"field":"target","type":"nominal","scale":{"domain":["TKE","CTL","FLX"],"range":["#7a0d0d","#1f33b8","#1b7d31"]},"legend":null}}},
{"data":{"name":"arrows"},"transform":[{"filter":"datum.target == 'END'"}],"mark":{"type":"rule","strokeWidth":1.5,"color":"#3c3ca0"},
 "encoding":{"x2":{"field":"lon2"},"y2":{"field":"lat2"}}},
{"data":{"name":"arrows"},"transform":[{"filter":"datum.target == 'END'"}],"mark":{"type":"point","filled":true,"opacity":1,"size":160,"color":"#3c3ca0","shape":"M0,-1L0.62,0.75L0,0.38L-0.62,0.75Z"},
 "encoding":{"x":{"field":"lon2","type":"quantitative"},"y":{"field":"lat2","type":"quantitative"},"angle":{"field":"heading","type":"quantitative","scale":null}}},
{"data":{"name":"labels"},"transform":[{"filter":"datum.kind == 'time'"}],"mark":{"type":"text","align":"left","baseline":"alphabetic","fontSize":23,"color":"black"},
 "encoding":{"text":{"field":"label"}}},
{"data":{"name":"labels"},"transform":[{"filter":"datum.kind == 'CTL'"}],"mark":{"type":"text","align":"center","baseline":"alphabetic","fontSize":26,"lineBreak":"\n","lineHeight":30,"color":"#2436bd"},
 "encoding":{"text":{"field":"label"}}},
{"data":{"name":"labels"},"transform":[{"filter":"datum.kind == 'TKE' || datum.kind == 'FLX'"}],"mark":{"type":"text","align":"left","baseline":"alphabetic","fontSize":26,"lineBreak":"\n","lineHeight":31},
 "encoding":{"text":{"field":"label"},"color":{"field":"kind","type":"nominal","scale":{"domain":["TKE","FLX"],"range":["#8e1f1f","#1f913c"]},"legend":null}}}
],
"resolve":{"scale":{"color":"independent"}}
}
